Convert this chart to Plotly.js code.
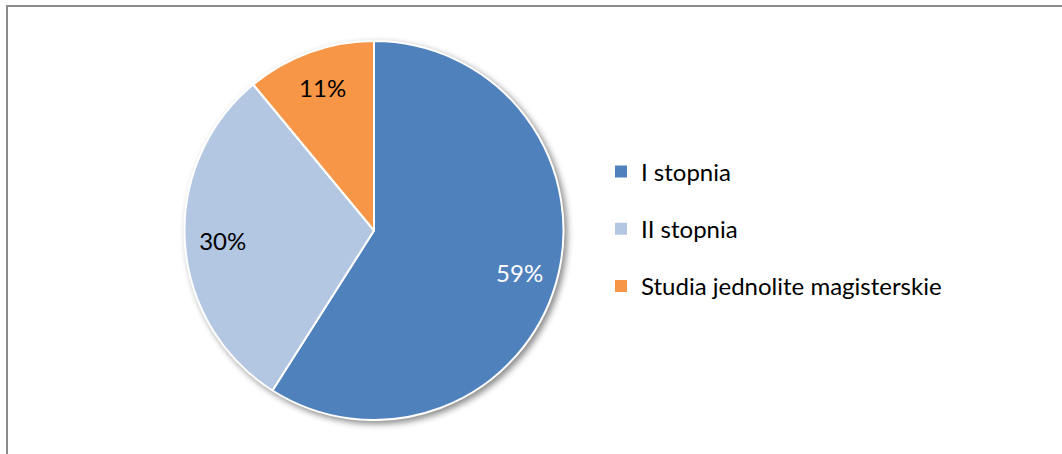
<!DOCTYPE html>
<html>
<head>
<meta charset="utf-8">
<script src="https://cdn.plot.ly/plotly-3.0.1.min.js"></script>
<style>
  html, body { margin: 0; padding: 0; background: #fff; }
  #chart { width: 1062px; height: 454px; }
  #chart .pielayer .trace:first-child { filter: drop-shadow(3px 3px 3px rgba(0,0,0,0.45)); }
</style>
</head>
<body>
<div id="chart"></div>
<script>
const categories = ["I stopnia", "II stopnia", "Studia jednolite magisterskie"];
const shares = [59, 30, 11];
const colors = ["#4F81BD", "#B3C7E3", "#F79646"];
const labelColors = ["#FFFFFF", "#000000", "#000000"];

const FONT = "Lato, 'Open Sans', sans-serif";
const pieDomain = { x: [184 / 1062, 564 / 1062], y: [1 - 420 / 454, 1 - 41 / 454] };

// filled slices
const pie = {
  type: "pie",
  labels: categories,
  values: shares,
  sort: false,
  direction: "clockwise",
  rotation: 0,
  textinfo: "none",
  marker: { colors: colors, line: { color: "#FFFFFF", width: 2 } },
  showlegend: false,
  hoverinfo: "label+percent",
  domain: pieDomain
};

// same data, transparent ring, carries the percentage labels near the rim
const pieLabels = {
  type: "pie",
  labels: categories,
  values: shares,
  sort: false,
  direction: "clockwise",
  rotation: 0,
  hole: 0.6,
  textinfo: "percent",
  textposition: "inside",
  insidetextorientation: "horizontal",
  insidetextfont: { family: FONT, size: 24, color: labelColors },
  marker: { colors: ["rgba(0,0,0,0)", "rgba(0,0,0,0)", "rgba(0,0,0,0)"], line: { width: 0 } },
  showlegend: false,
  hoverinfo: "skip",
  domain: pieDomain
};

const legendTraces = categories.map((name, i) => ({
  type: "scatter",
  mode: "markers",
  x: [null],
  y: [null],
  name: name,
  legendgroup: name,
  marker: { symbol: "square", size: 12, color: colors[i] },
  showlegend: true,
  hoverinfo: "skip"
}));

const layout = {
  width: 1062,
  height: 454,
  margin: { l: 0, r: 0, t: 0, b: 0 },
  paper_bgcolor: "#FFFFFF",
  plot_bgcolor: "#FFFFFF",
  xaxis: { visible: false, range: [0, 1] },
  yaxis: { visible: false, range: [0, 1] },
  showlegend: true,
  legend: {
    x: 601 / 1062,
    xanchor: "left",
    y: 1 - 229 / 454,
    yanchor: "middle",
    font: { family: FONT, size: 24, color: "#000000" },
    tracegroupgap: 23,
    bgcolor: "rgba(0,0,0,0)"
  },
  shapes: [{
    type: "rect", xref: "paper", yref: "paper",
    x0: 7 / 1062, x1: 1.2, y0: -0.2, y1: 1 - 6 / 454,
    line: { color: "#8C8C8C", width: 2 }, fillcolor: "rgba(0,0,0,0)"
  }]
};

Plotly.newPlot("chart", [...legendTraces, pie, pieLabels], layout, { displayModeBar: false, staticPlot: true });
</script>
</body>
</html>
